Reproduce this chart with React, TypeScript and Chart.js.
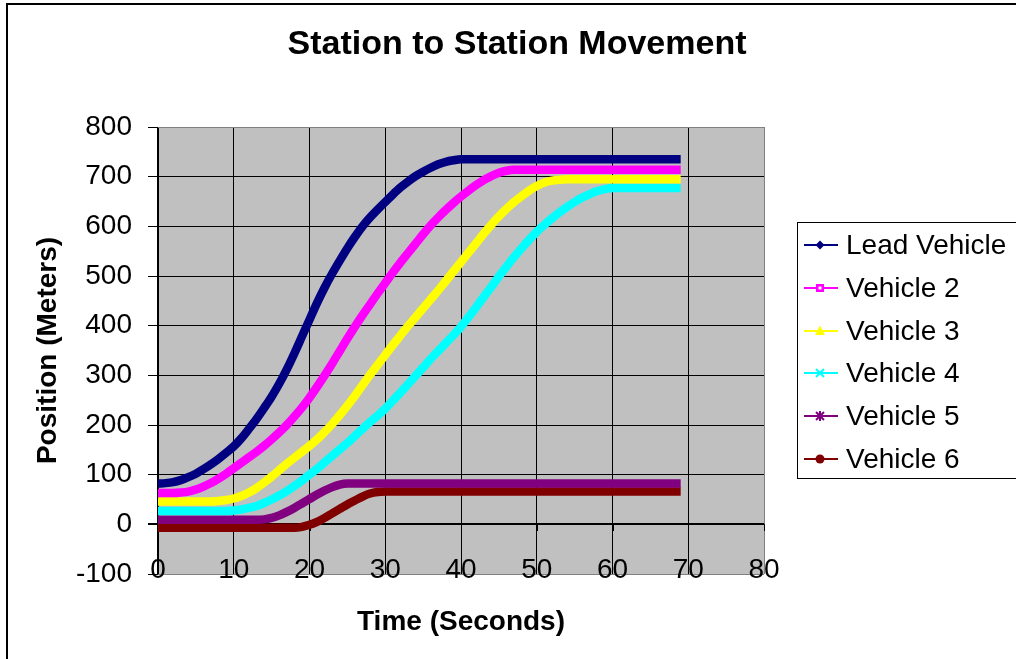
import React, { useEffect, useRef } from "react";
import { Chart, registerables } from "chart.js";

Chart.register(...registerables);

const FONT = 'Arial, "Liberation Sans", Helvetica, sans-serif';

const chartTitle = "Station to Station Movement";
const xAxisTitle = "Time (Seconds)";
const yAxisTitle = "Position (Meters)";

const timeSeconds = [
  0, 1, 2, 3, 4, 5, 6, 7, 8, 9,
  10, 11, 12, 13, 14, 15, 16, 17, 18, 19,
  20, 21, 22, 23, 24, 25, 26, 27, 28, 29,
  30, 31, 32, 33, 34, 35, 36, 37, 38, 39,
  40, 41, 42, 43, 44, 45, 46, 47, 48, 49,
  50, 51, 52, 53, 54, 55, 56, 57, 58, 59,
  60, 61, 62, 63, 64, 65, 66, 67, 68, 69,
];

const leadVehicle = [
  82, 83, 85, 89, 95, 102, 111, 121, 132, 144,
  157, 173, 192, 212, 234, 257, 283, 312, 344, 378,
  412, 446, 477, 505, 531, 556, 579, 600, 618, 634,
  649, 664, 678, 690, 701, 710, 718, 725, 730, 733,
  735, 735, 735, 735, 735, 735, 735, 735, 735, 735,
  735, 735, 735, 735, 735, 735, 735, 735, 735, 735,
  735, 735, 735, 735, 735, 735, 735, 735, 735, 735,
];

const vehicle2 = [
  63, 63, 63, 64, 66, 70, 76, 83, 92, 102,
  113, 124, 135, 146, 158, 171, 185, 200, 217, 235,
  255, 277, 300, 324, 349, 374, 398, 421, 443, 465,
  486, 507, 527, 546, 565, 584, 602, 618, 633, 647,
  660, 672, 683, 693, 701, 708, 712, 714, 714, 714,
  714, 714, 714, 714, 714, 714, 714, 714, 714, 714,
  714, 714, 714, 714, 714, 714, 714, 714, 714, 714,
];

const vehicle3 = [
  46, 46, 46, 46, 46, 46, 46, 46, 47, 49,
  52, 57, 64, 73, 84, 96, 109, 122, 134, 146,
  158, 171, 186, 202, 220, 239, 259, 280, 301, 321,
  341, 361, 380, 399, 417, 435, 453, 471, 490, 509,
  528, 547, 566, 585, 603, 620, 635, 649, 661, 672,
  681, 688, 692, 694, 695, 695, 695, 695, 695, 695,
  695, 695, 695, 695, 695, 695, 695, 695, 695, 695,
];

const vehicle4 = [
  27, 27, 27, 27, 27, 27, 27, 27, 27, 27,
  28, 30, 33, 37, 43, 50, 58, 67, 77, 88,
  100, 112, 125, 138, 151, 164, 178, 192, 206, 219,
  233, 249, 265, 282, 299, 316, 333, 349, 365, 381,
  398, 417, 437, 458, 478, 499, 519, 538, 556, 573,
  589, 603, 616, 628, 639, 649, 658, 665, 671, 675,
  677, 677, 677, 677, 677, 677, 677, 677, 677, 677,
];

const vehicle5 = [
  9, 9, 9, 9, 9, 9, 9, 9, 9, 9,
  9, 9, 9, 9, 10, 13, 18, 25, 33, 42,
  51, 60, 68, 75, 80, 82, 82, 82, 82, 82,
  82, 82, 82, 82, 82, 82, 82, 82, 82, 82,
  82, 82, 82, 82, 82, 82, 82, 82, 82, 82,
  82, 82, 82, 82, 82, 82, 82, 82, 82, 82,
  82, 82, 82, 82, 82, 82, 82, 82, 82, 82,
];

const vehicle6 = [
  -7, -7, -7, -7, -7, -7, -7, -7, -7, -7,
  -7, -7, -7, -7, -7, -7, -7, -7, -7, -5,
  -1, 5, 13, 22, 31, 40, 48, 56, 62, 65,
  66, 66, 66, 66, 66, 66, 66, 66, 66, 66,
  66, 66, 66, 66, 66, 66, 66, 66, 66, 66,
  66, 66, 66, 66, 66, 66, 66, 66, 66, 66,
  66, 66, 66, 66, 66, 66, 66, 66, 66, 66,
];

const seriesLabels = ["Lead Vehicle", "Vehicle 2", "Vehicle 3", "Vehicle 4", "Vehicle 5", "Vehicle 6"];
const seriesValues = [leadVehicle, vehicle2, vehicle3, vehicle4, vehicle5, vehicle6];
const seriesColors = ["#000080", "#FF00FF", "#FFFF00", "#00FFFF", "#800080", "#800000"];
const seriesMarkers = ["rectRot", "rect", "triangle", "crossRot", "star", "circle"];

const xMin = 0;
const xMax = 80;
const xStep = 10;
const yMin = -100;
const yMax = 800;
const yStep = 100;

function drawMarker(ctx: CanvasRenderingContext2D, style: string, x: number, y: number, color: string) {
  ctx.save();
  ctx.fillStyle = color;
  ctx.strokeStyle = color;
  ctx.lineWidth = 2;
  const r = 4.5;
  ctx.beginPath();
  if (style === "rectRot") {
    ctx.moveTo(x, y - r);
    ctx.lineTo(x + r, y);
    ctx.lineTo(x, y + r);
    ctx.lineTo(x - r, y);
    ctx.closePath();
    ctx.fill();
  } else if (style === "rect") {
    ctx.fillRect(x - 4, y - 4, 8, 8);
    ctx.fillStyle = "#ffffff";
    ctx.fillRect(x - 1.5, y - 1.5, 3, 3);
  } else if (style === "triangle") {
    ctx.moveTo(x, y - r - 1);
    ctx.lineTo(x + r + 0.5, y + r - 0.5);
    ctx.lineTo(x - r - 0.5, y + r - 0.5);
    ctx.closePath();
    ctx.fill();
  } else if (style === "crossRot") {
    ctx.moveTo(x - 4, y - 4);
    ctx.lineTo(x + 4, y + 4);
    ctx.moveTo(x + 4, y - 4);
    ctx.lineTo(x - 4, y + 4);
    ctx.stroke();
  } else if (style === "star") {
    ctx.moveTo(x - 4, y - 4);
    ctx.lineTo(x + 4, y + 4);
    ctx.moveTo(x + 4, y - 4);
    ctx.lineTo(x - 4, y + 4);
    ctx.moveTo(x, y - 5);
    ctx.lineTo(x, y + 5);
    ctx.stroke();
  } else {
    ctx.arc(x, y, r, 0, Math.PI * 2);
    ctx.fill();
  }
  ctx.restore();
}

export default function App() {
  const canvasRef = useRef<HTMLCanvasElement>(null);

  useEffect(() => {
    const canvas = canvasRef.current;
    if (!canvas) return;

    const plotBackground = {
      id: "plotBackground",
      beforeDraw(chart: any) {
        const { ctx, chartArea: a } = chart;
        ctx.save();
        ctx.fillStyle = "#C0C0C0";
        ctx.fillRect(a.left, a.top, a.right - a.left, a.bottom - a.top);
        ctx.restore();
      },
    };

    const xTickMarks = {
      id: "xTickMarks",
      beforeDatasetsDraw(chart: any) {
        const { ctx } = chart;
        const xs = chart.scales.x;
        const ys = chart.scales.y;
        const y0 = Math.round(ys.getPixelForValue(0));
        ctx.save();
        ctx.strokeStyle = "#000000";
        ctx.lineWidth = 1;
        for (const t of xs.ticks) {
          const px = Math.round(xs.getPixelForValue(t.value)) + 0.5;
          ctx.beginPath();
          ctx.moveTo(px, y0);
          ctx.lineTo(px, y0 + 7);
          ctx.stroke();
        }
        ctx.restore();
      },
    };

    const sideLegend = {
      id: "sideLegend",
      afterDraw(chart: any) {
        const { ctx } = chart;
        const left = 797.5;
        const top = 222.5;
        const width = 300;
        const height = 256;
        ctx.save();
        ctx.fillStyle = "#ffffff";
        ctx.fillRect(left, top, width, height);
        ctx.strokeStyle = "#000000";
        ctx.lineWidth = 1;
        ctx.strokeRect(left, top, width, height);
        ctx.font = `28px ${FONT}`;
        ctx.textBaseline = "middle";
        ctx.textAlign = "left";
        chart.data.datasets.forEach((ds: any, i: number) => {
          const cy = Math.round(top + 22.5 + i * 42.8);
          ctx.strokeStyle = ds.borderColor;
          ctx.lineWidth = 2;
          ctx.beginPath();
          ctx.moveTo(804, cy);
          ctx.lineTo(838, cy);
          ctx.stroke();
          drawMarker(ctx, seriesMarkers[i], 820, cy, ds.borderColor);
          ctx.fillStyle = "#000000";
          ctx.fillText(ds.label, 846, cy + 1);
        });
        ctx.restore();
      },
    };

    const datasets = seriesLabels.map((label, i) => ({
      label,
      data: timeSeconds.map((t, j) => ({ x: t, y: seriesValues[i][j] })),
      xAxisID: "x",
      yAxisID: "y",
      borderColor: seriesColors[i],
      backgroundColor: seriesColors[i],
      borderWidth: 8.5,
      pointRadius: 0,
      pointHoverRadius: 0,
      fill: false,
      cubicInterpolationMode: "monotone" as const,
      borderJoinStyle: "round" as const,
    }));

    const chart = new Chart(canvas, {
      type: "line",
      data: { datasets },
      plugins: [plotBackground, xTickMarks, sideLegend],
      options: {
        responsive: false,
        animation: false,
        devicePixelRatio: 1,
        layout: { padding: 0 },
        plugins: {
          legend: { display: false },
          tooltip: { enabled: false },
          title: {
            display: true,
            text: chartTitle,
            color: "#000000",
            font: { family: FONT, size: 34, weight: "bold", lineHeight: 1.2 },
            padding: { top: 24, bottom: 62.2 },
          },
        },
        scales: {
          x: {
            type: "linear",
            position: "bottom",
            min: xMin,
            max: xMax,
            afterFit(scale: any) {
              scale.height = 85;
            },
            ticks: {
              stepSize: xStep,
              color: "#000000",
              font: { family: FONT, size: 28 },
              mirror: true,
              padding: -13,
              maxRotation: 0,
            },
            grid: {
              drawTicks: false,
              color: (c: any) => (c.tick && c.tick.value === xMax ? "#808080" : "#000000"),
              lineWidth: (c: any) => (c.tick && c.tick.value === 0 ? 2 : 1),
            },
            border: { display: false },
            title: {
              display: true,
              text: xAxisTitle,
              color: "#000000",
              font: { family: FONT, size: 28, weight: "bold", lineHeight: 1.2 },
              padding: { top: 0, bottom: 20 },
            },
          },
          y: {
            type: "linear",
            position: "left",
            min: yMin,
            max: yMax,
            afterFit(scale: any) {
              scale.width = 158;
            },
            ticks: {
              stepSize: yStep,
              color: "#000000",
              font: { family: FONT, size: 28 },
              padding: 16,
            },
            grid: {
              drawTicks: true,
              tickLength: 10,
              tickColor: "#000000",
              color: (c: any) =>
                c.tick && (c.tick.value === yMax || c.tick.value === yMin) ? "#808080" : "#000000",
              lineWidth: (c: any) => (c.tick && c.tick.value === 0 ? 2 : 1),
            },
            border: { display: false },
            title: {
              display: true,
              text: yAxisTitle,
              color: "#000000",
              font: { family: FONT, size: 28, weight: "bold", lineHeight: 1.2 },
              padding: { top: 31, bottom: 0 },
            },
          },
          legendSpace: {
            type: "linear",
            axis: "y",
            position: "right",
            display: true,
            afterFit(scale: any) {
              scale.width = 270;
            },
            ticks: { display: false },
            grid: { display: false, drawTicks: false },
            border: { display: false },
            title: { display: false },
          },
        },
      } as any,
    });

    return () => {
      chart.destroy();
    };
  }, []);

  return (
    <div
      style={{
        position: "fixed",
        left: 0,
        top: 0,
        width: 1016,
        height: 659,
        overflow: "hidden",
        background: "#ffffff",
      }}
    >
      <div
        style={{
          position: "absolute",
          left: 6,
          top: 3,
          width: 1200,
          height: 900,
          border: "2px solid #000000",
          boxSizing: "border-box",
        }}
      />
      <canvas
        ref={canvasRef}
        width={1034}
        height={659}
        style={{ position: "absolute", left: 0, top: 0, width: 1034, height: 659 }}
      />
    </div>
  );
}
